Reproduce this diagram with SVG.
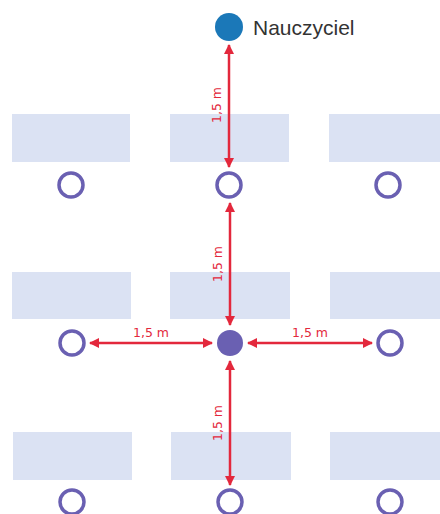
<svg xmlns="http://www.w3.org/2000/svg" width="440" height="514" viewBox="0 0 440 514">
<defs>
<style>
.desk{fill:#dbe2f3}
.seat{fill:none;stroke:#6a60b2;stroke-width:3.5}
.dist{stroke:#e3283c;stroke-width:2.5;fill:none}
.lbl{font-family:"DejaVu Sans",sans-serif;font-size:12.5px;fill:#e3283c}
</style>
<marker id="ah" viewBox="0 0 10 10" refX="9" refY="5" markerWidth="4.5" markerHeight="4" orient="auto-start-reverse" markerUnits="strokeWidth">
<path d="M0,0 L10,5 L0,10 z" fill="#e3283c"/>
</marker>
</defs>
<rect width="440" height="514" fill="#ffffff"/>
<g id="desks">
<rect class="desk" x="12" y="114" width="118" height="48"/>
<rect class="desk" x="170" y="114" width="119" height="48"/>
<rect class="desk" x="329" y="114" width="118" height="48"/>
<rect class="desk" x="12" y="272" width="119" height="47"/>
<rect class="desk" x="170" y="272" width="120" height="47"/>
<rect class="desk" x="330" y="272" width="118" height="47"/>
<rect class="desk" x="13" y="432" width="119" height="48"/>
<rect class="desk" x="171" y="432" width="120" height="48"/>
<rect class="desk" x="330" y="432" width="118" height="48"/>
</g>
<g id="teacher">
<circle cx="229" cy="27" r="14" fill="#1b78b8"/>
<text x="253" y="35" font-family="Liberation Sans, Arial, sans-serif" font-size="21" fill="#333333">Nauczyciel</text>
</g>
<g id="student-center">
<circle cx="230" cy="343" r="13" fill="#6a60b2"/>
</g>
<g id="seats">
<circle class="seat" cx="71" cy="185" r="12"/>
<circle class="seat" cx="229" cy="185" r="12"/>
<circle class="seat" cx="388" cy="185" r="12"/>
<circle class="seat" cx="72" cy="343" r="12"/>
<circle class="seat" cx="390" cy="343" r="12"/>
<circle class="seat" cx="72" cy="502" r="12"/>
<circle class="seat" cx="230" cy="502" r="12"/>
<circle class="seat" cx="390" cy="502" r="12"/>
</g>
<g id="connectors">
<line class="dist" x1="229" y1="45" x2="229" y2="167" marker-start="url(#ah)" marker-end="url(#ah)"/>
<line class="dist" x1="230" y1="203" x2="230" y2="325" marker-start="url(#ah)" marker-end="url(#ah)"/>
<line class="dist" x1="230" y1="361" x2="230" y2="485" marker-start="url(#ah)" marker-end="url(#ah)"/>
<line class="dist" x1="90" y1="343" x2="212" y2="343" marker-start="url(#ah)" marker-end="url(#ah)"/>
<line class="dist" x1="248" y1="343" x2="372" y2="343" marker-start="url(#ah)" marker-end="url(#ah)"/>
<text class="lbl" transform="translate(221,105) rotate(-90)" text-anchor="middle">1,5 m</text>
<text class="lbl" transform="translate(222,264) rotate(-90)" text-anchor="middle">1,5 m</text>
<text class="lbl" transform="translate(222,423) rotate(-90)" text-anchor="middle">1,5 m</text>
<text class="lbl" x="151" y="337" text-anchor="middle">1,5 m</text>
<text class="lbl" x="310" y="337" text-anchor="middle">1,5 m</text>
</g>
</svg>
